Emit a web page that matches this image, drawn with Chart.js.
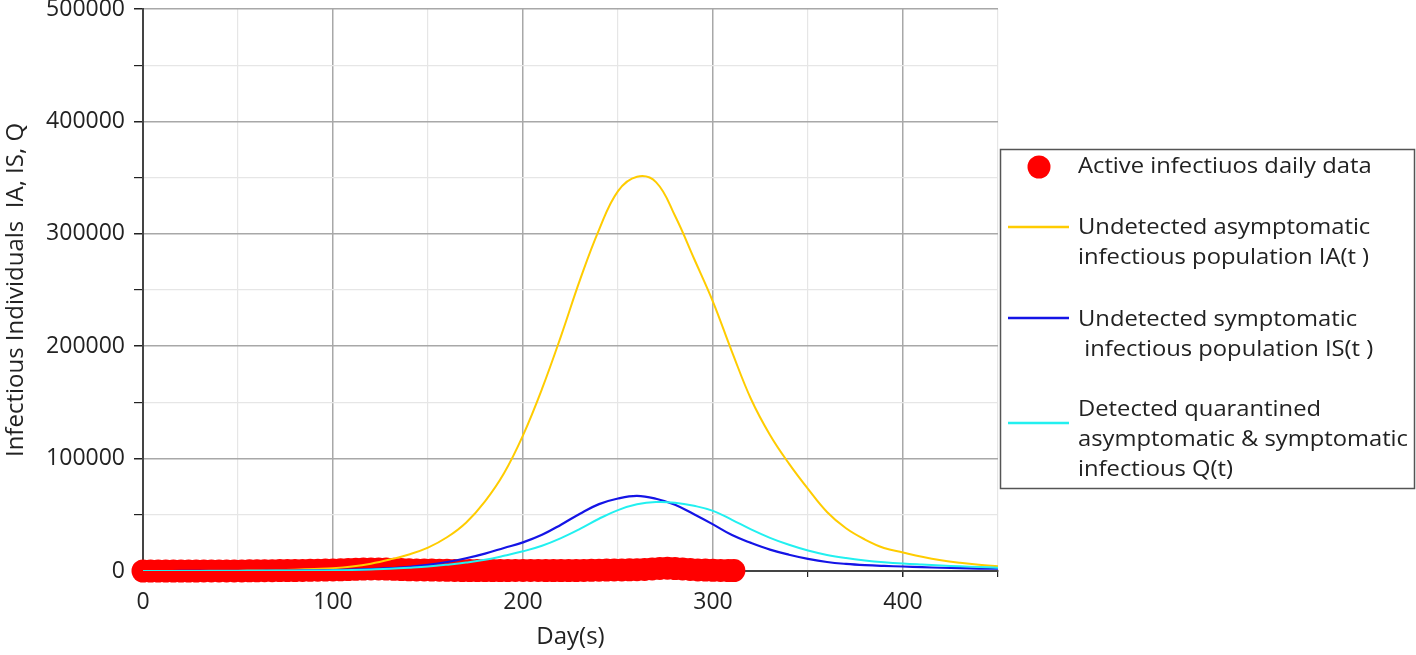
<!DOCTYPE html>
<html>
<head>
<meta charset="utf-8">
<script src="https://cdn.jsdelivr.net/npm/chart.js@4.4.1/dist/chart.umd.min.js"></script>
<style>
  html, body { margin: 0; padding: 0; background: #fff; }
  #c { display: block; }
</style>
</head>
<body>
<canvas id="c" width="1416" height="655"></canvas>
<script>
// ---- Data ----
const activeDays = [0,4,8,12,16,20,24,28,32,36,40,44,48,52,56,60,
  64,68,72,76,80,84,88,92,96,100,
  104,108,112,116,120,124,128,132,136,140,
  144,148,152,156,160,164,168,172,176,180,184,188,192,196,200,
  204,208,212,216,220,224,228,232,236,240,244,248,252,256,260,
  264,268,272,276,280,284,288,292,296,300,304,308,311];
const activeValues = [0,0,0,0,0,0,0,5,10,20,40,60,80,100,150,200,
  250,300,350,400,450,500,600,700,800,900,
  1100,1300,1500,1700,1800,1800,1700,1500,1300,1100,
  1000,900,800,700,600,500,450,400,400,400,400,400,450,500,500,
  500,500,450,400,400,400,450,500,600,700,800,900,1000,1100,1200,
  1400,1800,2300,2500,2200,1800,1400,1000,800,600,500,400,400];

// model curves, sampled every 10 days
const modelDays = [0,10,20,30,40,50,60,70,80,90,100,110,120,130,140,150,160,170,180,190,
  200,210,220,230,240,250,260,270,280,290,300,310,320,330,340,350,360,370,380,390,
  400,410,420,430,440,450];
const iaValues = [0,0,50,100,200,300,500,800,1200,1800,2500,4000,6500,10200,14700,20800,30000,43000,62000,87000,
  120700,162000,209000,259000,303500,338000,350800,346000,316000,278000,239500,195000,153000,121000,95500,73000,52500,38000,28000,20500,
  16500,12700,9600,7300,5500,4200];
const isValues = [0,0,50,100,100,150,200,300,400,600,800,1200,1800,2500,3800,5500,8000,11300,15500,20500,
  25500,32200,41200,51000,59500,64500,66800,64300,59000,50500,41500,32000,25000,19000,14500,10800,8000,6300,5200,4500,
  4000,3400,2900,2500,2200,2000];
const qValues = [0,0,50,80,100,100,150,200,300,400,600,900,1400,2000,2900,4000,5600,7500,10000,13500,
  17500,22500,29300,37500,46500,54200,59300,61400,60800,58000,53500,45500,37000,29500,23300,18200,14300,11500,9400,7800,
  6600,5700,4900,4200,3600,3000];

const xTickLabels = ['0','100','200','300','400'];
const yTickLabels = ['0','100000','200000','300000','400000','500000'];

const legendLabels = [
  ['Active infectiuos daily data'],
  ['Undetected asymptomatic', 'infectious population IA(t )'],
  ['Undetected symptomatic', ' infectious population IS(t )'],
  ['Detected quarantined', 'asymptomatic & symptomatic', 'infectious Q(t)']
];

const FONT = "'Open Sans', 'Noto Sans', sans-serif";
const RED = '#ff0000', GOLD = '#ffcc00', BLUE = '#1414e6', CYAN = '#22f0f0';

const pts = (xs, ys) => xs.map((x, i) => ({x: x, y: ys[i]}));

const legendPlugin = {
  id: 'boxLegend',
  afterDraw(chart) {
    const ctx = chart.ctx;
    ctx.save();
    ctx.strokeStyle = '#555';
    ctx.lineWidth = 1.5;
    ctx.strokeRect(1000.5, 149.5, 414, 339);
    ctx.font = '22px ' + FONT;
    ctx.textBaseline = 'middle';
    ctx.textAlign = 'left';
    ctx.beginPath();
    ctx.fillStyle = RED;
    ctx.arc(1039, 167, 11.5, 0, Math.PI * 2);
    ctx.fill();
    const swatch = [null, GOLD, BLUE, CYAN];
    const swY = [167, 227, 318, 423];
    const txtY = [[167], [228, 258], [320, 350], [410, 440, 470]];
    for (let i = 0; i < legendLabels.length; i++) {
      if (swatch[i]) {
        ctx.strokeStyle = swatch[i];
        ctx.lineWidth = 2.5;
        ctx.beginPath();
        ctx.moveTo(1008, swY[i]);
        ctx.lineTo(1069, swY[i]);
        ctx.stroke();
      }
      ctx.fillStyle = '#222';
      legendLabels[i].forEach((t, j) => {
        ctx.save();
        ctx.translate(1078, txtY[i][j]);
        ctx.scale(1.08, 1);
        ctx.fillText(t, 0, 0);
        ctx.restore();
      });
    }
    ctx.restore();
  }
};

new Chart(document.getElementById('c'), {
  type: 'scatter',
  data: {
    datasets: [
      { label: legendLabels[0].join(' '), data: pts(activeDays, activeValues), showLine: false, clip: false,
        pointRadius: 11.5, pointBackgroundColor: RED, pointBorderWidth: 0, borderColor: RED, order: 5 },
      { label: legendLabels[1].join(' '), data: pts(modelDays, iaValues), showLine: true, pointRadius: 0,
        borderColor: GOLD, borderWidth: 2, tension: 0.4, order: 2 },
      { label: legendLabels[2].join(' '), data: pts(modelDays, isValues), showLine: true, pointRadius: 0,
        borderColor: BLUE, borderWidth: 2.2, tension: 0.4, order: 1 },
      { label: legendLabels[3].join(' '), data: pts(modelDays, qValues), showLine: true, pointRadius: 0,
        borderColor: CYAN, borderWidth: 2, tension: 0.4, order: 0 }
    ]
  },
  options: {
    responsive: false,
    animation: false,
    events: [],
    layout: { autoPadding: false, padding: { left: 0, right: 418, top: 9, bottom: 0 } },
    plugins: { legend: { display: false }, tooltip: { enabled: false } },
    scales: {
      x: {
        type: 'linear', min: 0, max: 450,
        afterFit: s => { s.height = 84; s.paddingLeft = 0; s.paddingRight = 0; },
        ticks: {
          stepSize: 50, autoSkip: false, maxRotation: 0, padding: 12,
          color: '#222', font: { family: FONT, size: 23 },
          callback: v => (xTickLabels.includes(String(v)) ? String(v) : '')
        },
        grid: {
          color: c => (c.tick && c.tick.value % 100 === 0 ? '#a8a8a8' : '#e6e6e6'),
          lineWidth: c => (c.tick && c.tick.value % 100 === 0 ? 1.5 : 1.2),
          tickColor: '#222', tickLength: 6, drawTicks: true
        },
        border: { display: true, color: '#444', width: 2 },
        title: { display: true, text: 'Day(s)', color: '#222', font: { family: FONT, size: 24 }, padding: { top: 0, bottom: 3 } }
      },
      y: {
        min: 0, max: 500000,
        afterFit: s => { s.width = 143; s.paddingTop = 0; s.paddingBottom = 0; },
        ticks: {
          stepSize: 50000, autoSkip: false, padding: 9,
          color: '#222', font: { family: FONT, size: 23 },
          callback: v => (yTickLabels.includes(String(v)) ? String(v) : '')
        },
        grid: {
          color: c => (c.tick && c.tick.value % 100000 === 0 ? '#a8a8a8' : '#e6e6e6'),
          lineWidth: c => (c.tick && c.tick.value % 100000 === 0 ? 1.5 : 1.2),
          tickColor: '#222', tickLength: 9, drawTicks: true
        },
        border: { display: true, color: '#444', width: 2 },
        title: { display: true, text: 'Infectious Individuals  IA, IS, Q', color: '#222', font: { family: FONT, size: 24 }, padding: { top: 2, bottom: 0 } }
      }
    }
  },
  plugins: [legendPlugin]
});
</script>
</body>
</html>
